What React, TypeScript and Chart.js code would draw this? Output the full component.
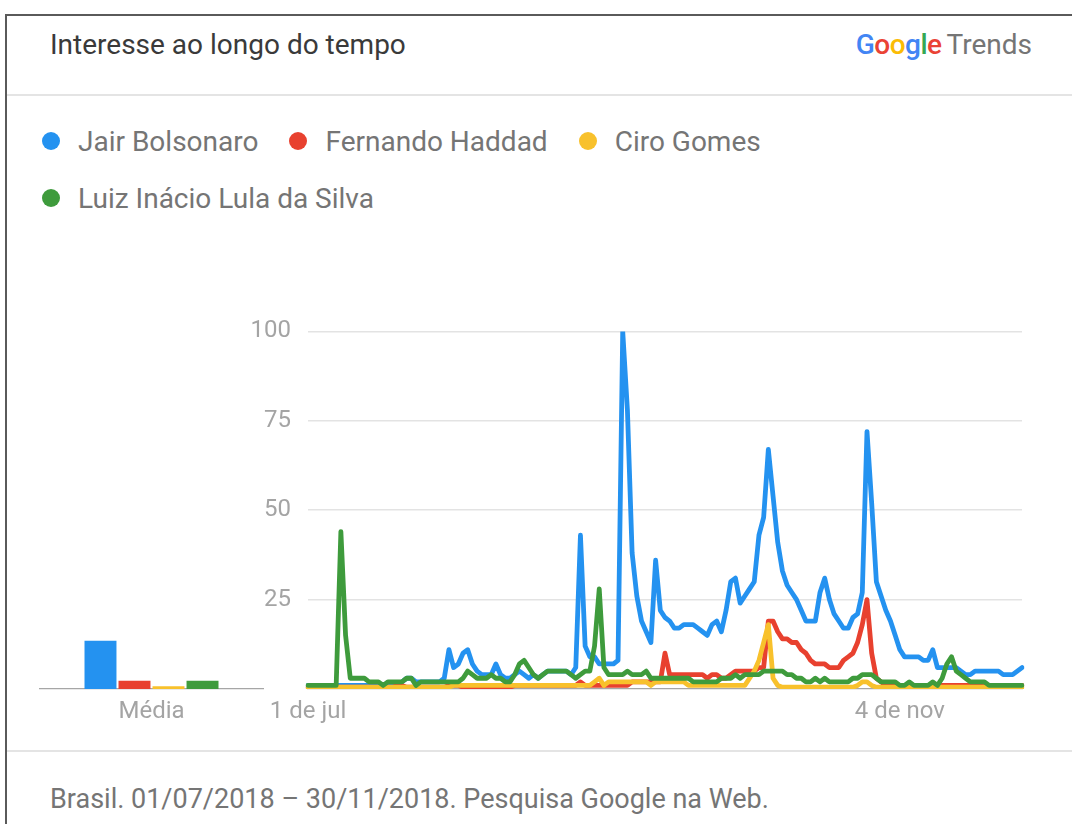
import React, { useEffect, useRef } from 'react';
import { Chart, registerables } from 'chart.js';

Chart.register(...registerables);

// ---- Data ----
const seriesNames = ['Jair Bolsonaro', 'Fernando Haddad', 'Ciro Gomes', 'Luiz Inácio Lula da Silva'];
const seriesColors = ['#2492f0', '#e8412f', '#f8c12c', '#3e9b3c'];

// daily categories 01/07/2018 .. 30/11/2018
const startDay = Date.UTC(2018, 6, 1);
const dayCount = 153;
const dates: string[] = Array.from({ length: dayCount }, (_, i) =>
  new Date(startDay + i * 86400000).toISOString().slice(0, 10)
);

const tickDates = ['2018-07-01', '2018-11-04'];
const tickLabels = ['1 de jul', '4 de nov'];
const yTicks = [25, 50, 75, 100];

const bolsonaro = [
  1, 1, 1, 1, 1, 1, 1, 1, 1, 1, 1, 1, 1, 1, 1, 1, 1, 1, 1, 1,
  2, 3, 3, 2, 2, 2, 2, 2, 2, 3,
  11, 6, 7, 10, 11, 7, 5, 4, 4, 4,
  7, 4, 3, 3, 4, 5, 4, 3, 4, 3,
  4, 5, 5, 5, 5, 5, 4, 6, 43, 12,
  9, 9, 7, 7, 7, 7, 8, 100, 78, 38,
  26, 19, 16, 13, 36, 22, 20, 19, 17, 17,
  18, 18, 18, 17, 16, 15, 18, 19, 16, 22,
  30, 31, 24, 26, 28, 30, 43, 48, 67, 54,
  41, 33, 29, 27, 25, 22, 19, 19, 19, 27,
  31, 25, 21, 19, 17, 17, 20, 21, 27, 72,
  52, 30, 26, 22, 19, 15, 11, 9, 9, 9,
  9, 8, 8, 11, 6, 6, 6, 6, 6, 5,
  4, 4, 5, 5, 5, 5, 5, 5, 4, 4,
  4, 5, 6,
];

const haddad = [
  0.5, 0.5, 0.5, 0.5, 0.5, 0.5, 0.5, 0.5, 0.5, 0.5,
  0.5, 0.5, 0.5, 0.5, 0.5, 0.5, 0.5, 0.5, 0.5, 1,
  1, 0.5, 0.5, 0.5, 0.5, 0.5, 0.5, 0.5, 0.5, 0.5,
  1, 1, 1, 0.5, 0.5, 0.5, 0.5, 0.5, 0.5, 0.5,
  0.5, 0.5, 0.5, 0.5, 1, 1, 1, 1, 1, 1,
  1, 1, 1, 1, 1, 1, 1, 1, 2, 1,
  1, 1, 1, 1, 1, 1, 1, 1, 1, 2,
  2, 2, 2, 2, 2, 2, 10, 4, 4, 4,
  4, 4, 4, 4, 4, 3, 4, 4, 3, 3,
  4, 5, 5, 5, 5, 5, 6, 6, 19, 19,
  16, 14, 14, 13, 13, 11, 10, 8, 7, 7,
  7, 6, 6, 6, 8, 9, 10, 13, 18, 25,
  10, 3, 2, 1, 1, 1, 1, 1, 1, 1,
  1, 1, 1, 1, 1, 1, 1, 1, 1, 1,
  1, 1, 1, 1, 1, 1, 1, 1, 1, 1,
  1, 1, 1,
];

const ciro = [
  0.5, 0.5, 0.5, 0.5, 0.5, 0.5, 0.5, 0.5, 0.5, 0.5,
  0.5, 0.5, 0.5, 0.5, 0.5, 0.5, 0.5, 0.5, 0.5, 0.5,
  0.5, 0.5, 0.5, 0.5, 0.5, 0.5, 0.5, 0.5, 0.5, 0.5,
  0.5, 1, 1, 1, 1, 1, 1, 1, 1, 1,
  1, 1, 1, 1, 1, 1, 1, 1, 1, 1,
  1, 1, 1, 1, 1, 1, 1, 1, 1, 1,
  1, 2, 3, 1, 2, 2, 2, 2, 2, 2,
  2, 2, 2, 1, 2, 2, 2, 2, 2, 2,
  2, 1, 1, 1, 1, 1, 1, 1, 1, 1,
  1, 1, 1, 1, 3, 5, 8, 13, 18, 3,
  1, 0.5, 0.5, 0.5, 0.5, 0.5, 0.5, 0.5, 0.5, 0.5,
  0.5, 0.5, 0.5, 0.5, 0.5, 0.5, 0.5, 1, 2, 2,
  1, 0.5, 0.5, 0.5, 0.5, 0.5, 0.5, 0.5, 0.5, 0.5,
  0.5, 0.5, 0.5, 0.5, 0.5, 0.5, 0.5, 0.5, 0.5, 0.5,
  0.5, 0.5, 0.5, 0.5, 0.5, 0.5, 0.5, 0.5, 0.5, 0.5,
  0.5, 0.5, 0.5,
];

const lula = [
  1, 1, 1, 1, 1, 1, 1, 44, 15, 3,
  3, 3, 3, 2, 2, 2, 1, 2, 2, 2,
  2, 3, 3, 1, 2, 2, 2, 2, 2, 2,
  2, 2, 2, 3, 5, 4, 3, 3, 3, 4,
  3, 3, 2, 2, 4, 7, 8, 6, 4, 3,
  4, 5, 5, 5, 5, 5, 4, 3, 4, 5,
  5, 12, 28, 6, 4, 4, 4, 4, 5, 4,
  4, 4, 5, 3, 3, 3, 3, 3, 3, 3,
  3, 3, 2, 2, 2, 2, 2, 2, 3, 3,
  3, 4, 3, 4, 4, 4, 4, 5, 5, 5,
  5, 5, 4, 4, 3, 3, 2, 2, 3, 2,
  3, 2, 2, 2, 2, 2, 3, 3, 4, 4,
  4, 3, 2, 2, 2, 2, 1, 1, 2, 1,
  1, 1, 1, 2, 1, 3, 7, 9, 5, 4,
  3, 2, 2, 2, 2, 1, 1, 1, 1, 1,
  1, 1, 1,
];

const seriesValues = [bolsonaro, haddad, ciro, lula];

// average bars ("Média")
const averageLabel = ['Média'];
const averageValues = [13.5, 2.3, 0.8, 2.3];

const axisFont = { family: 'Roboto', size: 24 };
const axisColor = '#a4a4a4';

export default function App() {
  const lineRef = useRef<HTMLCanvasElement | null>(null);
  const barRef = useRef<HTMLCanvasElement | null>(null);

  useEffect(() => {
    const lineChart = new Chart(lineRef.current as HTMLCanvasElement, {
      type: 'line',
      data: {
        labels: dates,
        datasets: seriesNames.map((name, k) => ({
          label: name,
          data: seriesValues[k],
          borderColor: seriesColors[k],
          backgroundColor: seriesColors[k],
          borderWidth: 4.8,
          pointRadius: 0,
          tension: 0,
          fill: false,
          borderJoinStyle: 'round',
          borderCapStyle: 'round',
          order: 4 - k,
        })),
      },
      options: {
        animation: false,
        responsive: false,
        layout: { padding: { top: 31, right: 18, left: 0, bottom: 0 } },
        plugins: { legend: { display: false }, tooltip: { enabled: false } },
        scales: {
          x: {
            type: 'category',
            grid: { display: false, drawTicks: false },
            border: { display: true, color: '#a6a6a6', width: 1.2 },
            ticks: {
              autoSkip: false,
              maxRotation: 0,
              minRotation: 0,
              padding: 9,
              color: axisColor,
              font: axisFont,
              callback: function (this: any, value: any) {
                const d = this.getLabelForValue(value);
                const j = tickDates.indexOf(d);
                return j >= 0 ? tickLabels[j] : '';
              },
            },
            afterFit: (s: any) => {
              s.height = 51;
            },
          },
          y: {
            min: 0,
            max: 100,
            afterBuildTicks: (s: any) => {
              s.ticks = [0, ...yTicks].map((v) => ({ value: v }));
            },
            ticks: {
              padding: 17,
              color: axisColor,
              font: axisFont,
              callback: (v: any) => (v === 0 ? '' : String(v)),
            },
            grid: {
              drawTicks: false,
              lineWidth: 1.5,
              color: (ctx: any) => (ctx.tick && ctx.tick.value === 0 ? 'rgba(0,0,0,0)' : '#e3e3e3'),
            },
            border: { display: false },
            afterFit: (s: any) => {
              s.width = 108;
            },
          },
        },
      },
    } as any);

    const barChart = new Chart(barRef.current as HTMLCanvasElement, {
      type: 'bar',
      data: {
        labels: averageLabel,
        datasets: seriesNames.map((name, k) => ({
          label: name,
          data: [averageValues[k]],
          backgroundColor: seriesColors[k],
          borderWidth: 0,
          barPercentage: 0.94,
          categoryPercentage: 0.61,
        })),
      },
      options: {
        animation: false,
        responsive: false,
        layout: { padding: { top: 31, right: 17, left: 10, bottom: 0 } },
        plugins: { legend: { display: false }, tooltip: { enabled: false } },
        scales: {
          x: {
            grid: { display: false, drawTicks: false },
            border: { display: true, color: '#a6a6a6', width: 1.2 },
            ticks: { padding: 9, color: axisColor, font: axisFont },
            afterFit: (s: any) => {
              s.height = 51;
            },
          },
          y: { display: false, min: 0, max: 100 },
        },
      },
    } as any);

    return () => {
      lineChart.destroy();
      barChart.destroy();
    };
  }, []);

  const legendText: React.CSSProperties = {
    font: '28px Roboto',
    color: '#757575',
    whiteSpace: 'nowrap',
  };
  const dot = (c: string): React.CSSProperties => ({
    width: 18,
    height: 18,
    borderRadius: '50%',
    background: c,
    marginRight: 18,
    flex: 'none',
  });

  const legendItem = (k: number) => (
    <div key={k} style={{ display: 'flex', alignItems: 'center', marginRight: 31 }}>
      <div style={dot(seriesColors[k])} />
      <span style={legendText}>{seriesNames[k]}</span>
    </div>
  );

  return (
    <div
      style={{
        position: 'absolute',
        left: 0,
        top: 0,
        width: 1072,
        height: 824,
        overflow: 'hidden',
        background: '#ffffff',
        fontFamily: 'Roboto',
      }}
    >
      {/* card border */}
      <div
        style={{
          position: 'absolute',
          left: 5,
          top: 14,
          width: 1100,
          height: 900,
          border: '2px solid #5a5a5a',
          boxSizing: 'border-box',
        }}
      />
      {/* header */}
      <div
        style={{
          position: 'absolute',
          left: 50,
          top: 28,
          lineHeight: '34px',
          font: '28px Roboto',
          color: '#3a3a3a',
          whiteSpace: 'nowrap',
        }}
      >
        Interesse ao longo do tempo
      </div>
      <div
        style={{
          position: 'absolute',
          right: 40,
          top: 28,
          lineHeight: '34px',
          fontSize: 28,
          fontFamily: 'Roboto',
          whiteSpace: 'nowrap',
        }}
      >
        <span style={{ fontWeight: 500, letterSpacing: -0.5 }}>
          <span style={{ color: '#4285f4' }}>G</span>
          <span style={{ color: '#ea4335' }}>o</span>
          <span style={{ color: '#fbbc05' }}>o</span>
          <span style={{ color: '#4285f4' }}>g</span>
          <span style={{ color: '#34a853' }}>l</span>
          <span style={{ color: '#ea4335' }}>e</span>
        </span>
        <span style={{ color: '#757575', marginLeft: 5 }}>Trends</span>
      </div>
      {/* divider */}
      <div style={{ position: 'absolute', left: 7, top: 94, width: 1070, height: 2, background: '#e4e4e4' }} />

      {/* legend */}
      <div style={{ position: 'absolute', left: 42, top: 124, height: 34, display: 'flex', alignItems: 'center' }}>
        {[0, 1, 2].map(legendItem)}
      </div>
      <div style={{ position: 'absolute', left: 42, top: 181, height: 34, display: 'flex', alignItems: 'center' }}>
        {[3].map(legendItem)}
      </div>

      {/* charts */}
      <canvas ref={barRef} width={250} height={440} style={{ position: 'absolute', left: 30, top: 300 }} />
      <canvas ref={lineRef} width={840} height={440} style={{ position: 'absolute', left: 200, top: 300 }} />

      {/* footer divider */}
      <div style={{ position: 'absolute', left: 7, top: 750, width: 1070, height: 2, background: '#e4e4e4' }} />
      <div
        style={{
          position: 'absolute',
          left: 50,
          top: 783,
          lineHeight: '34px',
          font: '27px Roboto',
          color: '#757575',
          whiteSpace: 'nowrap',
        }}
      >
        Brasil. 01/07/2018 – 30/11/2018. Pesquisa Google na Web.
      </div>
    </div>
  );
}
